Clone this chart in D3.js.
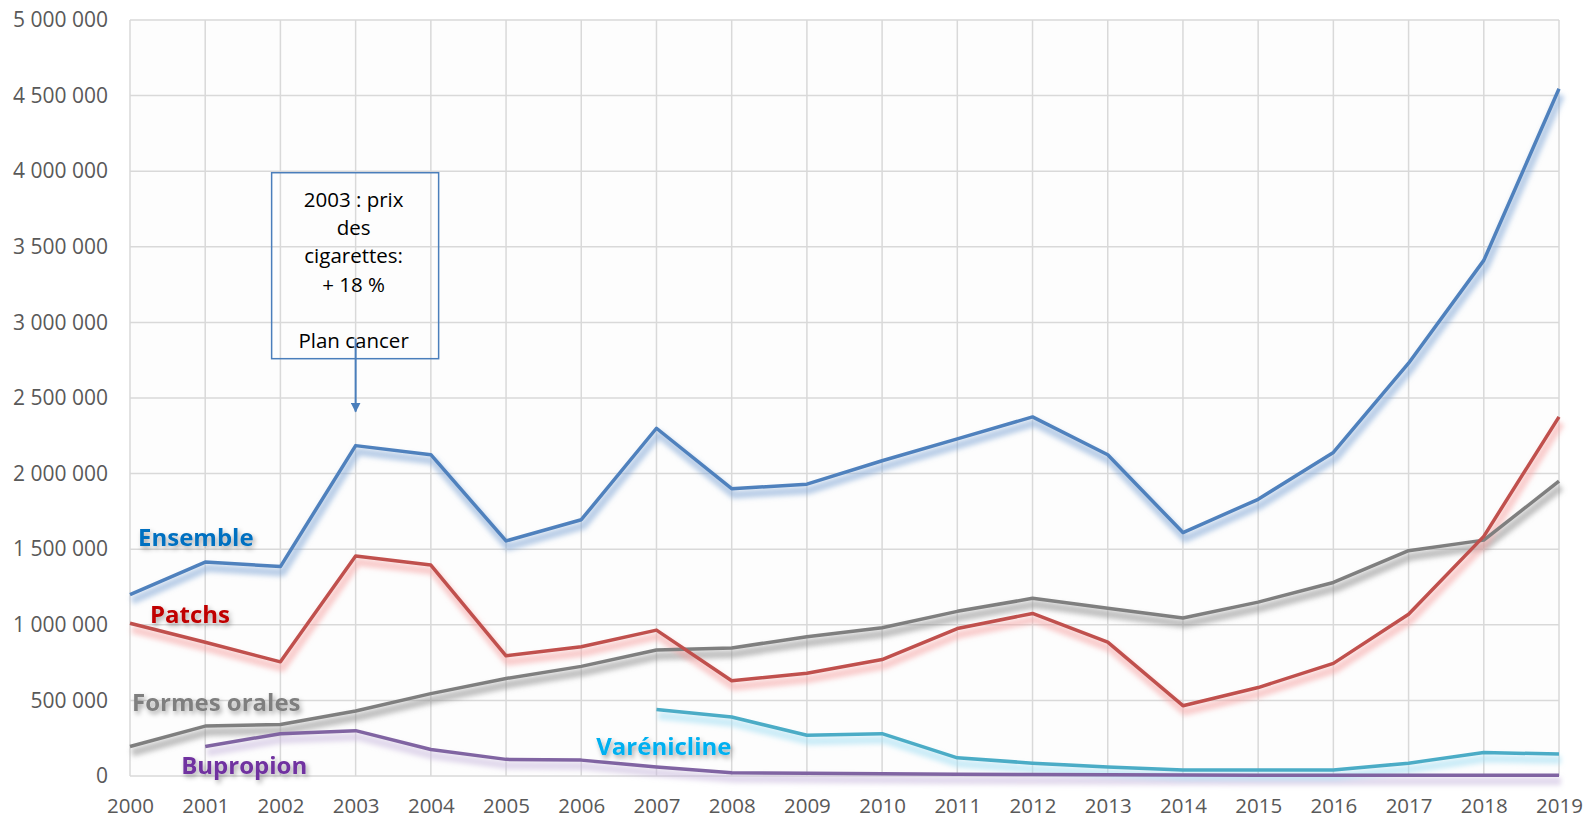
<!DOCTYPE html>
<html>
<head>
<meta charset="utf-8">
<script src="https://cdn.jsdelivr.net/npm/d3@7"></script>
<style>
  body { margin: 0; background: #fff; }
  svg { display: block; }
</style>
</head>
<body>
<svg id="chart"></svg>
<script>
// valeurs (nombre de boîtes)
const years = [2000, 2001, 2002, 2003, 2004, 2005, 2006, 2007, 2008, 2009,
               2010, 2011, 2012, 2013, 2014, 2015, 2016, 2017, 2018, 2019];
const ensemble = [1200000, 1415000, 1385000, 2185000, 2125000, 1555000, 1695000, 2300000, 1900000, 1930000,
                  2085000, 2230000, 2375000, 2125000, 1610000, 1830000, 2140000, 2730000, 3410000, 4545000];
const patchs = [1010000, 885000, 755000, 1455000, 1395000, 795000, 855000, 965000, 630000, 680000,
                770000, 975000, 1075000, 885000, 465000, 585000, 745000, 1070000, 1585000, 2375000];
const formesOrales = [195000, 330000, 340000, 430000, 545000, 645000, 725000, 833000, 847000, 921000,
                      981000, 1089000, 1175000, 1110000, 1045000, 1150000, 1280000, 1490000, 1560000, 1950000];
const varenicline = [null, null, null, null, null, null, null, 440000, 390000, 270000,
                     280000, 120000, 85000, 60000, 40000, 40000, 40000, 85000, 155000, 145000];
const bupropion = [null, 195000, 280000, 300000, 175000, 110000, 105000, 60000, 22000, 18000,
                   15000, 12000, 10000, 8000, 6000, 5000, 5000, 5000, 5000, 5000];
const yTicks = [0, 500000, 1000000, 1500000, 2000000, 2500000, 3000000, 3500000, 4000000, 4500000, 5000000];

const series = [
  {name: 'Formes orales', values: formesOrales, color: '#7f7f7f', glow: '#8c8c8c'},
  {name: 'Bupropion', values: bupropion, color: '#8064a2', glow: '#c9b8dd'},
  {name: 'Varénicline', values: varenicline, color: '#4bacc6', glow: '#9fdcf2'},
  {name: 'Patchs', values: patchs, color: '#c0504d', glow: '#f5a3a3'},
  {name: 'Ensemble', values: ensemble, color: '#4f81bd', glow: '#7fa6d6'}
];

const labels = [
  {text: 'Ensemble', year: 2000, value: 1520000, dx: 8, color: '#0070c0'},
  {text: 'Patchs', year: 2000, value: 1010000, dx: 20, color: '#c00000'},
  {text: 'Formes orales', year: 2000, value: 430000, dx: 2, color: '#7f7f7f'},
  {text: 'Varénicline', year: 2006, value: 140000, dx: 15, color: '#00b0f0'},
  {text: 'Bupropion', year: 2001, value: 10000, dx: -24, color: '#7030a0'}
];

const width = 1596, height = 819;
const margin = {top: 20, right: 37, bottom: 43, left: 130};
const innerW = width - margin.left - margin.right;
const innerH = height - margin.top - margin.bottom;

const svg = d3.select('#chart').attr('width', width).attr('height', height);

const defs = svg.append('defs');
const glow = defs.append('filter').attr('id', 'glow')
  .attr('x', '-5%').attr('y', '-20%').attr('width', '110%').attr('height', '140%');
glow.append('feGaussianBlur').attr('stdDeviation', 2.8);

const tshadow = defs.append('filter').attr('id', 'tshadow')
  .attr('x', '-10%').attr('y', '-30%').attr('width', '130%').attr('height', '180%');
tshadow.append('feDropShadow').attr('dx', 2).attr('dy', 3).attr('stdDeviation', 2.5)
  .attr('flood-color', '#000').attr('flood-opacity', 0.35);

defs.append('marker').attr('id', 'arrow')
  .attr('viewBox', '0 0 10 10').attr('refX', 9).attr('refY', 5)
  .attr('markerWidth', 5).attr('markerHeight', 5).attr('orient', 'auto')
  .append('path').attr('d', 'M0,0 L10,5 L0,10 Z').attr('fill', '#4a7ebb');

const chart = svg.append('g').attr('transform', `translate(${margin.left}, ${margin.top})`);

const xscale = d3.scaleLinear().domain([2000, 2019]).range([0, innerW]);
const yscale = d3.scaleLinear().domain([0, 5000000]).range([innerH, 0]);

chart.append('rect').attr('width', innerW).attr('height', innerH).attr('fill', '#fdfdfd');

// grille
chart.append('g').selectAll('line').data(yTicks).join('line')
  .attr('x1', 0).attr('x2', innerW)
  .attr('y1', d => yscale(d)).attr('y2', d => yscale(d))
  .attr('stroke', '#d9d9d9').attr('stroke-width', 1.5);
chart.append('g').selectAll('line').data(years).join('line')
  .attr('x1', d => xscale(d)).attr('x2', d => xscale(d))
  .attr('y1', 0).attr('y2', innerH)
  .attr('stroke', '#d9d9d9').attr('stroke-width', 1.5);

const fmt = v => d3.format(',')(v).replace(/,/g, '\u00a0');

const yaxis = d3.axisLeft(yscale).tickValues(yTicks).tickSize(0).tickPadding(22).tickFormat(fmt);
const yaxis_group = chart.append('g').call(yaxis);
yaxis_group.select('.domain').remove();
yaxis_group.selectAll('text')
  .attr('font-family', '"Open Sans", sans-serif').attr('font-size', '21px').attr('fill', '#595959');

const xaxis = d3.axisBottom(xscale).tickValues(years).tickSize(0).tickPadding(22).tickFormat(d3.format('d'));
const xaxis_group = chart.append('g').attr('transform', `translate(0, ${innerH})`).call(xaxis);
xaxis_group.select('.domain').remove();
xaxis_group.selectAll('text')
  .attr('font-family', '"Open Sans", sans-serif').attr('font-size', '20.5px').attr('fill', '#595959');

const line = d3.line()
  .defined(d => d != null)
  .x((d, i) => xscale(years[i]))
  .y(d => yscale(d));

// halo des courbes
chart.append('g').selectAll('path').data(series).join('path')
  .attr('d', d => line(d.values))
  .attr('transform', 'translate(2, 6)')
  .attr('fill', 'none')
  .attr('stroke', d => d.glow)
  .attr('stroke-width', 8)
  .attr('stroke-opacity', 0.55)
  .attr('stroke-linejoin', 'round')
  .attr('filter', 'url(#glow)');

chart.append('g').selectAll('path').data(series).join('path')
  .attr('d', d => line(d.values))
  .attr('fill', 'none')
  .attr('stroke', d => d.color)
  .attr('stroke-width', 3.5)
  .attr('stroke-linejoin', 'round');

// étiquettes des séries
chart.append('g').selectAll('text').data(labels).join('text')
  .attr('x', d => xscale(d.year) + d.dx)
  .attr('y', d => yscale(d.value))
  .attr('font-family', '"Open Sans", sans-serif')
  .attr('font-weight', 'bold')
  .attr('font-size', '24px')
  .attr('fill', d => d.color)
  .attr('filter', 'url(#tshadow)')
  .text(d => d.text);

// annotation 2003
const boxX0 = xscale(2003) - 84, boxX1 = xscale(2003) + 83;
const boxY0 = yscale(3990000), boxY1 = yscale(2760000);
const note = chart.append('g');
note.append('rect')
  .attr('x', boxX0).attr('y', boxY0)
  .attr('width', boxX1 - boxX0).attr('height', boxY1 - boxY0)
  .attr('fill', 'none').attr('stroke', '#4a7ebb').attr('stroke-width', 1.5);
const noteLines = ['2003 : prix', 'des', 'cigarettes:', '+ 18 %', '', 'Plan cancer'];
note.append('text')
  .attr('font-family', '"Open Sans", sans-serif').attr('font-size', '20.5px').attr('fill', '#000')
  .attr('text-anchor', 'middle')
  .selectAll('tspan').data(noteLines).join('tspan')
  .attr('x', xscale(2003) - 2)
  .attr('y', (d, i) => boxY0 + 34 + i * 28.3)
  .text(d => d);
note.append('line')
  .attr('x1', xscale(2003)).attr('x2', xscale(2003))
  .attr('y1', boxY1 - 20).attr('y2', yscale(2410000))
  .attr('stroke', '#4a7ebb').attr('stroke-width', 2)
  .attr('marker-end', 'url(#arrow)');
</script>
</body>
</html>
